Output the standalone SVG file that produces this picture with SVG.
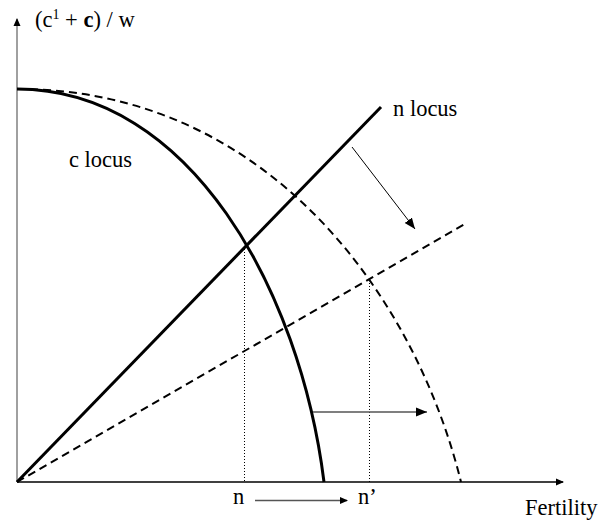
<svg xmlns="http://www.w3.org/2000/svg" width="600" height="524" viewBox="0 0 600 524">
<style>
text{font-family:"Liberation Serif","Times New Roman",serif;font-size:22.5px;fill:#000}
.solid{fill:none;stroke:#000;stroke-width:3}
.dash{fill:none;stroke:#000;stroke-width:2;stroke-dasharray:8,5}
.dot{fill:none;stroke:#000;stroke-width:1;stroke-dasharray:1,2}
</style>
<defs>
<marker id="ah" markerWidth="8" markerHeight="8" refX="7" refY="4" orient="auto" markerUnits="userSpaceOnUse">
<path d="M0,0.5 L8,4 L0,7.5 Z" fill="#000"/>
</marker>
<marker id="ahs" markerWidth="12" markerHeight="10" refX="11" refY="5" orient="auto" markerUnits="userSpaceOnUse">
<path d="M0,0.5 L11,5 L0,9.5 Z" fill="#000"/>
</marker>
</defs>
<g id="axes">
<line x1="17" y1="482" x2="17" y2="19" stroke="#808080" stroke-width="1.5" marker-end="url(#ah)"/>
<line x1="17" y1="482" x2="563" y2="482" stroke="#000" stroke-width="1.5" marker-end="url(#ah)"/>
</g>
<g id="connectors">
<path id="c-locus" class="solid" d="M17,89 C190,89 300,290 324,482"/>
<path id="c-locus-shifted" class="dash" d="M17,89 C267,89 415,295 461,482"/>
<line id="n-locus" class="solid" x1="17" y1="482" x2="381" y2="107"/>
<line id="n-locus-shifted" class="dash" x1="17" y1="482" x2="465" y2="224"/>
<line class="dot" x1="244.5" y1="246" x2="244.5" y2="482"/>
<line class="dot" x1="369.5" y1="280" x2="369.5" y2="482"/>
<line x1="352" y1="147" x2="415" y2="229" stroke="#000" stroke-width="1" marker-end="url(#ahs)"/>
<line x1="313" y1="412" x2="427" y2="412" stroke="#555" stroke-width="1.5" marker-end="url(#ahs)"/>
<line x1="255" y1="500.5" x2="347" y2="500.5" stroke="#555" stroke-width="1.5" marker-end="url(#ah)"/>
</g>
<g id="labels">
<text x="35" y="27">(c<tspan font-size="14" dy="-8">1</tspan><tspan dy="8"> + </tspan><tspan font-weight="bold">c</tspan>) / w</text>
<text x="69" y="167">c locus</text>
<text x="393" y="116">n locus</text>
<text x="233" y="504">n</text>
<text x="358" y="504">n’</text>
<text x="525" y="515" font-size="21">Fertility</text>
</g>
</svg>
